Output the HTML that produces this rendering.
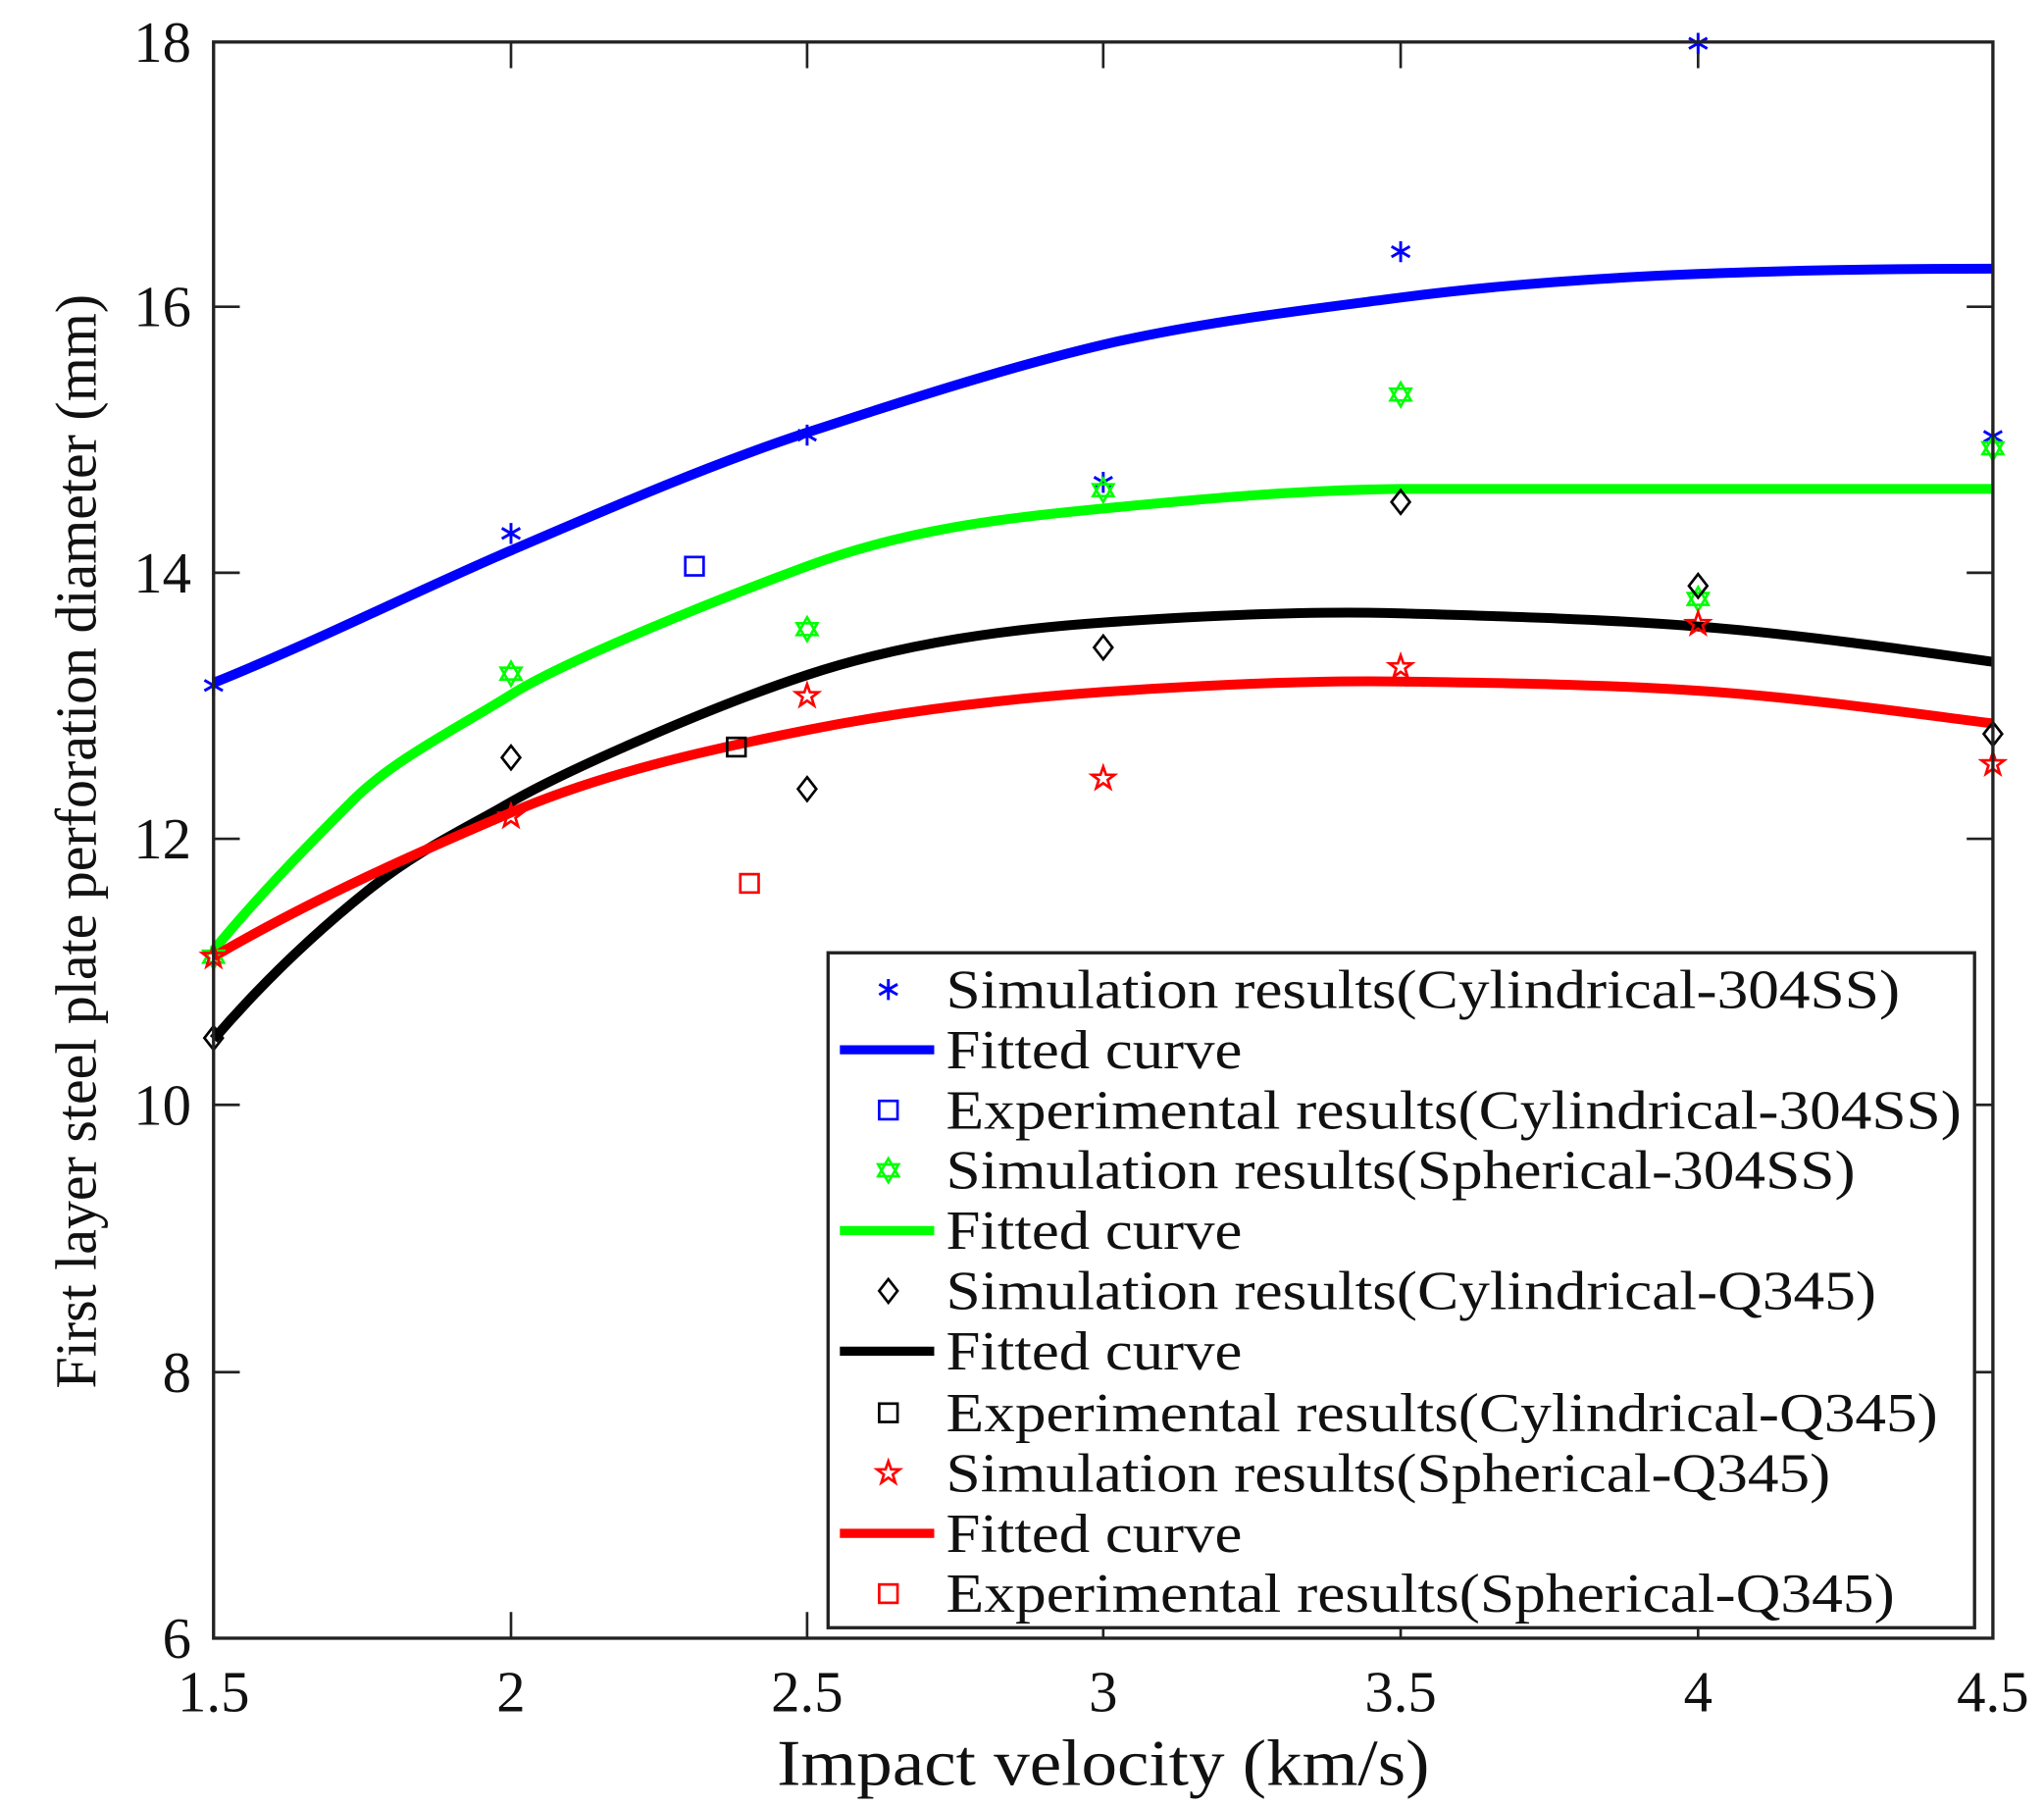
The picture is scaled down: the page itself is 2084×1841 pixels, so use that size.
<!DOCTYPE html>
<html><head><meta charset="utf-8"><style>html,body{margin:0;padding:0;background:#fff}svg{display:block}</style></head>
<body>
<svg width="2084" height="1841" viewBox="0 0 1560 1378" xmlns="http://www.w3.org/2000/svg" font-family="Liberation Serif, serif">
<defs>
<g id="ast"><path d="M0,-8V8M-7,-4L7,4M-7,4L7,-4" stroke="#0000ff" stroke-width="2.2"/></g>
<g id="hex"><path d="M0,-9L7.8,4.5H-7.8ZM0,9L7.8,-4.5H-7.8Z" fill="none" stroke="#00ff00" stroke-width="2"/></g>
<g id="pent"><path d="M0,-9L2.1,-2.9L8.6,-2.8L3.4,1.1L5.3,7.3L0,3.6L-5.3,7.3L-3.4,1.1L-8.6,-2.8L-2.1,-2.9Z" fill="none" stroke="#ff0000" stroke-width="2"/></g>
<g id="dia"><path d="M0,-9L7,0L0,9L-7,0Z" fill="none" stroke="#000" stroke-width="2"/></g>
</defs>
<rect width="1560" height="1378" fill="#fff"/>
<g stroke="#222" stroke-width="2">
<path d="M390,1250v-20M616,1250v-20M842,1250v-20M1069,1250v-20M1296,1250v-20M390,32v20M616,32v20M842,32v20M1069,32v20M1296,32v20"/>
<path d="M163,234h20M163,437h20M163,640h20M163,843h20M163,1047h20M1521,234h-20M1521,437h-20M1521,640h-20M1521,843h-20M1521,1047h-20"/>
</g>
<g fill="none" stroke-width="7.5" stroke-linecap="butt">
<path stroke="#0000ff" d="M163,521 C240,490 320,450 390,420 S540,355 616,330 S770,280 842,263 S1000,236 1069,227 S1220,212 1296,209 S1450,205 1521,205"/>
<path stroke="#00ff00" d="M163,725 C200,680 240,640 270,610 S350,555 390,530 S540,460 616,432 S760,396 842,388 S990,374 1069,373 L1521,373"/>
<path stroke="#000" d="M163,793 C200,750 240,712 280,680 S350,635 390,612 S540,540 616,515 S770,480 842,475 S1000,466 1069,468 S1220,472 1296,478 S1450,495 1521,505"/>
<path stroke="#ff0000" d="M163,730 C240,685 320,650 390,620 S540,572 616,557 S770,533 842,528 S1000,519 1069,520 S1220,522 1296,527 S1450,543 1521,552"/>
</g>
<g>
<use href="#ast" x="163" y="523"/><use href="#ast" x="390" y="407"/><use href="#ast" x="616" y="332"/><use href="#ast" x="842" y="368"/><use href="#ast" x="1069" y="192"/><use href="#ast" x="1296" y="33"/><use href="#ast" x="1521" y="333"/>
<rect x="523" y="425" width="14" height="14" fill="none" stroke="#0000ff" stroke-width="2"/>
<use href="#hex" x="163" y="730"/><use href="#hex" x="390" y="514"/><use href="#hex" x="616" y="480"/><use href="#hex" x="842" y="374"/><use href="#hex" x="1069" y="301"/><use href="#hex" x="1296" y="457"/><use href="#hex" x="1521" y="342"/>
<use href="#dia" x="163" y="792"/><use href="#dia" x="390" y="578"/><use href="#dia" x="616" y="602"/><use href="#dia" x="842" y="494"/><use href="#dia" x="1069" y="383"/><use href="#dia" x="1296" y="447"/><use href="#dia" x="1521" y="560"/>
<rect x="555" y="563" width="14" height="14" fill="none" stroke="#000" stroke-width="2"/>
<use href="#pent" x="163" y="730"/><use href="#pent" x="390" y="623"/><use href="#pent" x="616" y="531"/><use href="#pent" x="842" y="594"/><use href="#pent" x="1069" y="509"/><use href="#pent" x="1296" y="476"/><use href="#pent" x="1521" y="583"/>
<rect x="565" y="667" width="14" height="14" fill="none" stroke="#ff0000" stroke-width="2"/>
</g>
<rect x="163" y="32" width="1358" height="1218" fill="none" stroke="#222" stroke-width="2.5"/>
<rect x="632" y="727" width="875" height="515" fill="#fff" stroke="#222" stroke-width="2.5"/>
<g font-size="42" fill="#111" lengthAdjust="spacingAndGlyphs">
<use href="#ast" x="678" y="755"/><text x="722" y="769" textLength="728" lengthAdjust="spacingAndGlyphs">Simulation results(Cylindrical-304SS)</text>
<path d="M641,801h72" stroke="#0000ff" stroke-width="7"/><text x="722" y="815" textLength="226" lengthAdjust="spacingAndGlyphs">Fitted curve</text>
<rect x="671" y="840" width="14" height="14" fill="none" stroke="#0000ff" stroke-width="2"/><text x="722" y="861" textLength="775" lengthAdjust="spacingAndGlyphs">Experimental results(Cylindrical-304SS)</text>
<use href="#hex" x="678" y="893"/><text x="722" y="907" textLength="694" lengthAdjust="spacingAndGlyphs">Simulation results(Spherical-304SS)</text>
<path d="M641,939h72" stroke="#00ff00" stroke-width="7"/><text x="722" y="953" textLength="226" lengthAdjust="spacingAndGlyphs">Fitted curve</text>
<use href="#dia" x="678" y="985"/><text x="722" y="999" textLength="710" lengthAdjust="spacingAndGlyphs">Simulation results(Cylindrical-Q345)</text>
<path d="M641,1031h72" stroke="#000" stroke-width="7"/><text x="722" y="1045" textLength="226" lengthAdjust="spacingAndGlyphs">Fitted curve</text>
<rect x="671" y="1071" width="14" height="14" fill="none" stroke="#000" stroke-width="2"/><text x="722" y="1092" textLength="757" lengthAdjust="spacingAndGlyphs">Experimental results(Cylindrical-Q345)</text>
<use href="#pent" x="678" y="1124"/><text x="722" y="1138" textLength="675" lengthAdjust="spacingAndGlyphs">Simulation results(Spherical-Q345)</text>
<path d="M641,1170h72" stroke="#ff0000" stroke-width="7"/><text x="722" y="1184" textLength="226" lengthAdjust="spacingAndGlyphs">Fitted curve</text>
<rect x="671" y="1209" width="14" height="14" fill="none" stroke="#ff0000" stroke-width="2"/><text x="722" y="1230" textLength="724" lengthAdjust="spacingAndGlyphs">Experimental results(Spherical-Q345)</text>
</g>
<g font-size="44" fill="#111" text-anchor="end">
<text x="146" y="47">18</text><text x="146" y="249">16</text><text x="146" y="452">14</text><text x="146" y="655">12</text><text x="146" y="858">10</text><text x="146" y="1062">8</text><text x="146" y="1265">6</text>
</g>
<g font-size="44" fill="#111" text-anchor="middle">
<text x="163" y="1306">1.5</text><text x="390" y="1306">2</text><text x="616" y="1306">2.5</text><text x="842" y="1306">3</text><text x="1069" y="1306">3.5</text><text x="1296" y="1306">4</text><text x="1521" y="1306">4.5</text>
<text x="842" y="1362" font-size="50" textLength="498" lengthAdjust="spacingAndGlyphs">Impact velocity (km/s)</text>
<text transform="translate(73,642) rotate(-90)" font-size="44" textLength="835" lengthAdjust="spacingAndGlyphs">First layer steel plate perforation diameter (mm)</text>
</g>
</svg>
</body></html>
